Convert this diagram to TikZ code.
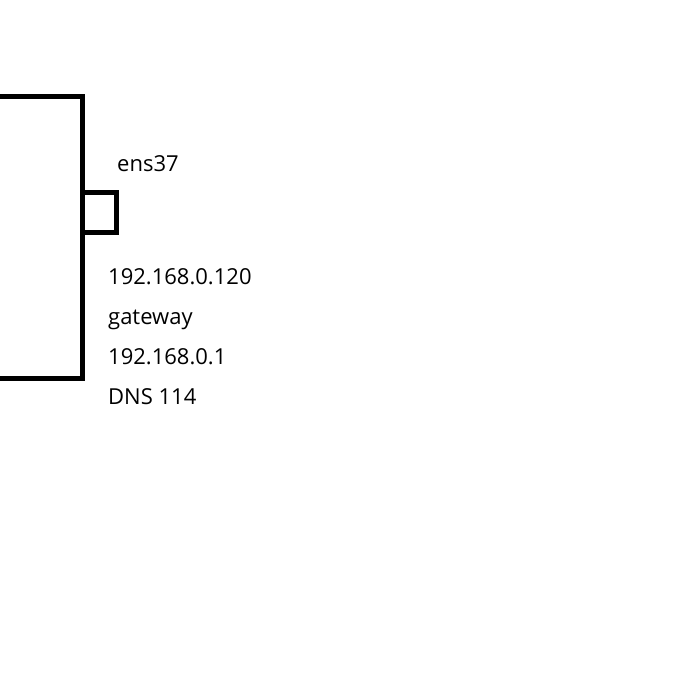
\documentclass[tikz,border=0pt]{standalone}
\usepackage{fontspec}
\setmainfont{Open Sans}
\begin{document}
\begin{tikzpicture}[x=1pt,y=-1pt,
  box/.style={draw=black,line width=5pt,fill=white},
  lbl/.style={anchor=base west,inner sep=0pt,font=\fontsize{22}{26}\selectfont,text=black}]
\useasboundingbox (0,0) rectangle (674,674);
\clip (0,0) rectangle (674,674);
\draw[box] (-20,97) rectangle (82,378.5);
\draw[box] (82,192.5) rectangle (116,232.5);
\coordinate (port) at (99,212);
\node[lbl] (name) at (117,171.5) {ens37};
\node[lbl] (ip) at (108,284) {192.168.0.120};
\node[lbl] (gw) at (108,324) {gateway};
\node[lbl] (gwip) at (108,364) {192.168.0.1};
\node[lbl] (dns) at (108,404) {DNS 114};
\end{tikzpicture}
\end{document}
